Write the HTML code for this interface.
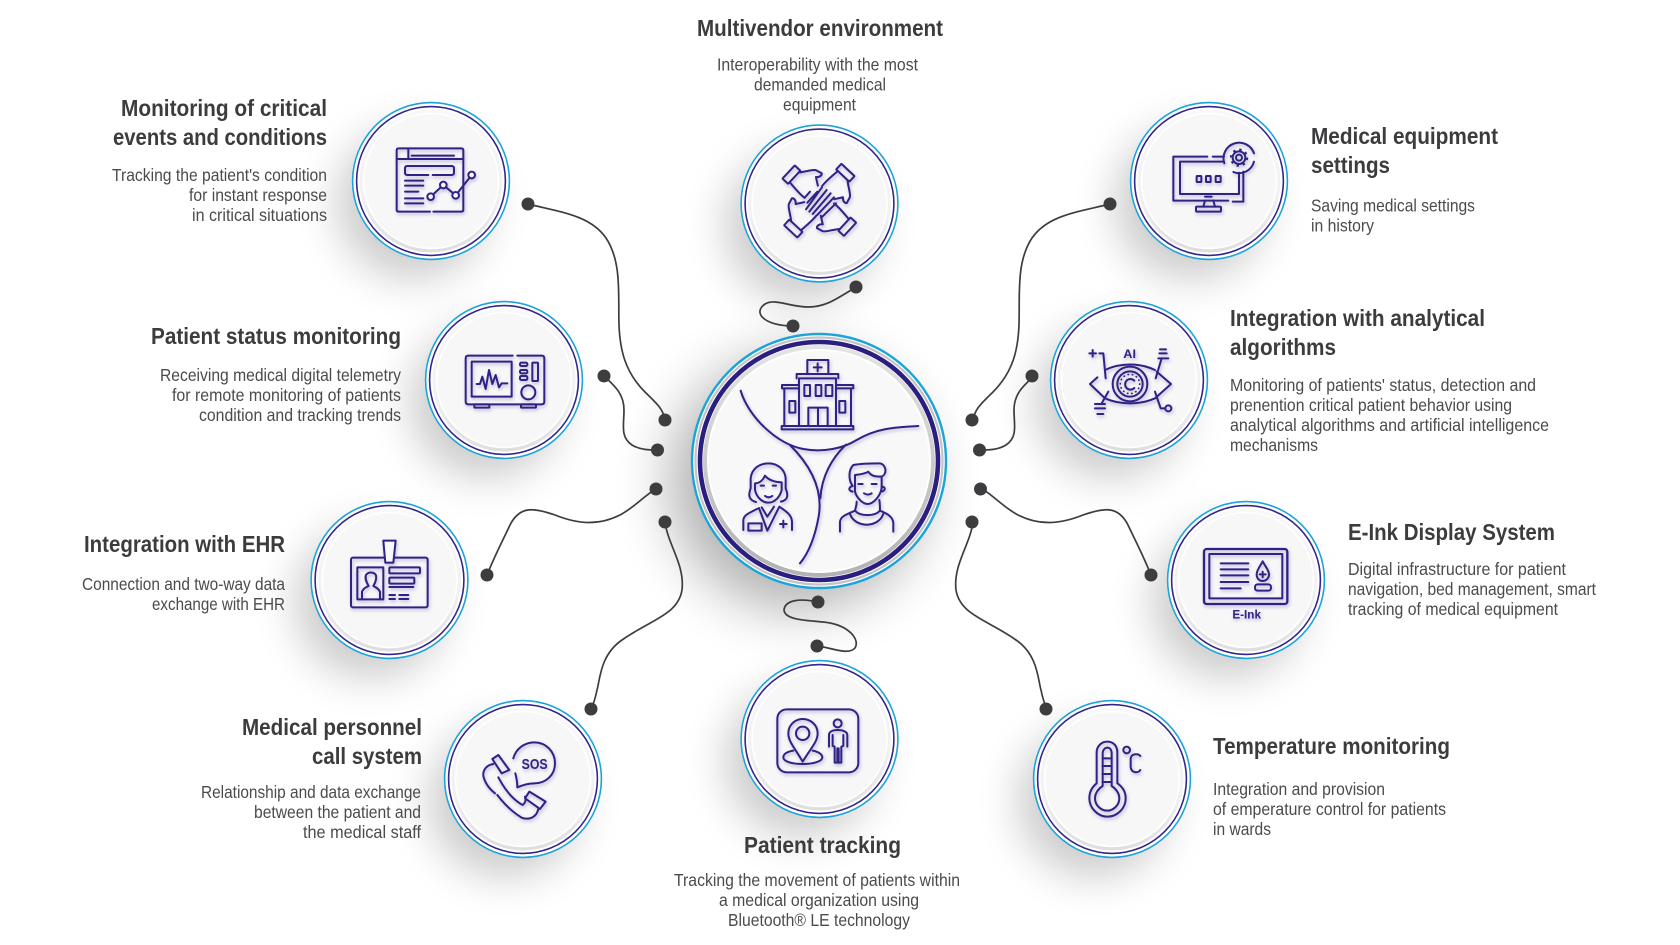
<!DOCTYPE html>
<html><head><meta charset="utf-8"><style>
html,body{margin:0;padding:0;background:#fff;width:1680px;height:945px;overflow:hidden}
svg{display:block}
.t{font:700 23px "Liberation Sans",sans-serif;fill:#3c3c3e}
.d{font:400 17.5px "Liberation Sans",sans-serif;fill:#4b4b4d}
.i{fill:none;stroke:#2e2484;stroke-width:6;stroke-linecap:round;stroke-linejoin:round}
.lt{fill:#2e2484;stroke:none;font-family:"Liberation Sans",sans-serif;font-weight:700}
.cn{fill:none;stroke:#3d3d40;stroke-width:1.7}
</style></head><body>
<svg xmlns="http://www.w3.org/2000/svg" width="1680" height="945" viewBox="0 0 1680 945">
<defs>
<filter id="b" x="-70%" y="-70%" width="240%" height="240%"><feGaussianBlur stdDeviation="21"/></filter>
<filter id="bc" x="-70%" y="-70%" width="240%" height="240%"><feGaussianBlur stdDeviation="28"/></filter>
<filter id="is" x="-15%" y="-15%" width="130%" height="130%"><feDropShadow dx="1" dy="2" stdDeviation="1.6" flood-color="#2e2484" flood-opacity=".28"/></filter>
<linearGradient id="g1" x1="0" y1="0" x2="0" y2="1"><stop offset="0" stop-color="#f8f8f9"/><stop offset=".6" stop-color="#f1f1f2"/><stop offset="1" stop-color="#dedede"/></linearGradient>
<linearGradient id="g2" x1="0" y1="0" x2="0" y2="1"><stop offset="0" stop-color="#e4e4e4"/><stop offset="1" stop-color="#b2b2b4"/></linearGradient>
<g id="c">
<circle r="79" fill="#fff"/>
<circle r="78.4" fill="none" stroke="#1ba4d8" stroke-width="1.6"/>
<circle r="74.4" fill="none" stroke="#33268a" stroke-width="1.6"/>
<circle r="71.5" fill="url(#g1)"/>
<circle r="67.5" fill="#f7f7f8" stroke="#fff" stroke-width="1.6"/>
</g>
<g id="hand">
<rect x="-126" y="-27" width="23" height="54" rx="2"/>
<path d="M-103 -20C-92 -30 -80 -55 -70 -60L-51 -65C-45 -60 -48 -50 -56 -45L-34 -30M-103 20C-85 22 -60 26 -38 24"/>
</g>
</defs>

<!-- shadows -->
<g fill="#000" opacity=".2" filter="url(#b)">
<circle cx="413" cy="203" r="76"/><circle cx="801" cy="226" r="76"/><circle cx="1191" cy="203" r="76"/>
<circle cx="486" cy="402" r="76"/><circle cx="1111" cy="402" r="76"/><circle cx="371" cy="602" r="76"/>
<circle cx="1228" cy="602" r="76"/><circle cx="505" cy="801" r="76"/><circle cx="801" cy="761" r="76"/><circle cx="1094" cy="801" r="76"/>
</g>
<circle cx="798" cy="482" r="128" fill="#000" opacity=".3" filter="url(#bc)"/>

<!-- connectors -->
<g class="cn">
<path d="M528 204C560 212 590 215 606 238C622 262 618 295 619 325C620 350 625 372 645 392C655 402 663 408 665 420"/>
<path d="M1110 204C1078 212 1048 215 1032 238C1016 262 1020 295 1019 325C1018 350 1013 372 993 392C983 402 975 408 973 420"/>
<path d="M604 376C612 384 624 392 624 410C624 425 620 437 632 445C640 450 650 450 657 450"/>
<path d="M1034 376C1026 384 1014 392 1014 410C1014 425 1018 437 1006 445C998 450 988 450 981 450"/>
<path d="M487 575C495 555 503 540 510 525C520 505 535 508 555 515C580 525 600 525 620 515C635 507 645 495 656 489"/>
<path d="M1151 575C1143 555 1135 540 1128 525C1118 505 1103 508 1083 515C1058 525 1038 525 1018 515C1003 507 993 495 982 489"/>
<path d="M665 522C668 545 685 565 682 590C678 615 650 620 622 640C600 655 600 680 597 690C595 700 593 705 591 709"/>
<path d="M973 522C970 545 953 565 956 590C960 615 988 620 1016 640C1038 655 1038 680 1041 690C1043 700 1045 705 1047 709"/>
<path d="M856 287C835 300 825 307 808 307C790 307 775 298 765 304C752 313 765 326 793 326"/>
<path d="M818 602C800 598 785 600 784 610C785 622 815 620 830 623C850 627 860 640 855 648C848 656 830 647 817 646"/>
</g>
<g fill="#3d3d40">
<circle cx="528" cy="204" r="6.5"/><circle cx="1110" cy="204" r="6.5"/><circle cx="604" cy="376" r="6.5"/><circle cx="1032" cy="376" r="6.5"/>
<circle cx="487" cy="575" r="6.5"/><circle cx="1151" cy="575" r="6.5"/><circle cx="591" cy="709" r="6.5"/><circle cx="1046" cy="709" r="6.5"/>
<circle cx="665" cy="420" r="6.5"/><circle cx="657.5" cy="450" r="6.5"/><circle cx="656" cy="489" r="6.5"/><circle cx="665" cy="522" r="6.5"/>
<circle cx="972" cy="420" r="6.5"/><circle cx="979.5" cy="450" r="6.5"/><circle cx="980.5" cy="489" r="6.5"/><circle cx="972" cy="522" r="6.5"/>
<circle cx="856" cy="287" r="6.5"/><circle cx="793" cy="326" r="6.5"/><circle cx="818" cy="602" r="6.5"/><circle cx="817" cy="646" r="6.5"/>
</g>

<!-- circles -->
<use href="#c" x="431" y="181"/><use href="#c" x="819.5" y="203.5"/><use href="#c" x="1209" y="181"/>
<use href="#c" x="504" y="380"/><use href="#c" x="1129" y="380"/><use href="#c" x="389.5" y="580"/>
<use href="#c" x="1246" y="580"/><use href="#c" x="523" y="779"/><use href="#c" x="819.5" y="739"/><use href="#c" x="1112" y="779"/>

<!-- centre -->
<circle cx="819" cy="461" r="128" fill="#fff"/>
<circle cx="819" cy="461" r="127" fill="none" stroke="#1ba4d8" stroke-width="2.4"/>
<circle cx="819" cy="461" r="123.5" fill="none" stroke="#c4c4c6" stroke-width="2.2"/>
<circle cx="819" cy="461" r="119" fill="none" stroke="#2a1f7e" stroke-width="4.6"/>
<circle cx="819" cy="461" r="116" fill="url(#g2)"/>
<circle cx="819" cy="461" r="111" fill="#f8f8f9" stroke="#fff" stroke-width="2"/>
<g filter="url(#is)"><g class="i" transform="translate(680,320) scale(.3333)">
<path d="M182 212C205 290 290 372 370 387C430 398 490 385 530 360C590 325 640 322 715 318"/>
<path d="M330 375C395 440 430 510 416 590C405 650 385 700 360 730"/>
<path d="M498 374C455 415 425 470 421 535"/>
<rect x="305" y="318" width="215" height="10"/>
<path d="M357 318V175H468V318M350 175V162H475V175M382 162V120H445V162M401 142H425M413 130V154"/>
<path d="M357 205H306V195H357M468 205H520V195H468M313 205V318M513 205V318"/>
<rect x="373" y="195" width="17" height="33"/><rect x="407" y="195" width="17" height="33"/><rect x="437" y="195" width="20" height="33"/>
<path d="M385 318V263H443V318M414 263V318"/>
<rect x="328" y="243" width="18" height="35"/><rect x="478" y="243" width="18" height="35"/>
<path d="M228 546C205 540 205 525 212 505V475C215 445 240 430 265 430C295 430 315 450 317 475V505C325 525 325 540 303 545"/>
<path d="M225 490C240 490 250 478 255 467C265 480 285 487 305 487M225 490V510C230 535 250 548 265 548C285 548 300 530 305 510V487"/>
<path d="M242 497H252M278 497H288M255 528C262 533 270 533 277 528"/>
<path d="M190 630V600C192 585 205 580 237 564L262 632L298 560C320 575 335 585 336 605V630M245 562L262 590L282 560"/>
<rect x="205" y="610" width="40" height="22"/><path d="M300 612H320M310 602V622"/>
<path d="M518 498C505 480 505 450 520 435C545 430 580 430 600 430C620 435 622 462 605 470V505"/>
<path d="M525 465C540 463 555 462 565 455C575 470 590 470 605 470M525 465V515C530 535 550 552 562 552C580 552 600 530 605 505M518 498C510 500 500 510 518 515M605 500C620 500 615 515 603 515"/>
<path d="M535 492H548M575 492H590M552 520C560 525 568 525 575 520"/>
<path d="M480 635V605C482 590 495 585 525 572C530 552 530 552 530 545M600 572C620 580 640 590 640 610V635M525 572C540 590 585 590 600 572C600 560 600 550 598 540M510 582C525 625 595 625 610 582"/>
</g></g>

<!-- icon 1 monitoring -->
<g filter="url(#is)"><g class="i" transform="translate(340,90) scale(.3333)">
<path d="M270 365H176Q170 365 170 359V181Q170 175 176 175H364Q370 175 370 181V359Q370 365 364 365H280"/>
<path d="M170 207H370M205 175V207M215 197H342"/>
<path d="M265 255H202Q195 255 195 248V235Q195 228 202 228H335Q342 228 342 235V248Q342 255 335 255H278"/>
<path d="M195 272H250M195 287H250M195 305H235M195 325H250M195 340H250"/>
<path d="M272 320L310 285L347 316L395 255"/>
<circle cx="272" cy="320" r="10" fill="#f7f7f8"/><circle cx="310" cy="285" r="10" fill="#f7f7f8"/><circle cx="347" cy="316" r="10" fill="#f7f7f8"/><circle cx="395" cy="255" r="10" fill="#f7f7f8"/>
</g></g>

<!-- icon 2 hands -->
<g filter="url(#is)"><g class="i" transform="translate(730,110) scale(.3333)">
<use href="#hand" transform="translate(268,272) rotate(43)"/>
<use href="#hand" transform="translate(268,272) rotate(133)"/>
<use href="#hand" transform="translate(268,272) rotate(223)"/>
<use href="#hand" transform="translate(268,272) rotate(313)"/>
<path d="M225 262L240 245M232 278L262 245M228 298L276 232M238 305L290 240M248 312L302 250M262 315L312 262M275 322L318 280"/>
</g></g>

<!-- icon 3 monitor -->
<g filter="url(#is)"><g class="i" transform="translate(1120,90) scale(.3333)">
<path d="M262 200H160V332H325M338 335H370V245M278 200H312M180 215H312M180 215V312H357V248"/>
<path d="M255 320H275M255 332L250 350M280 332L285 350"/>
<rect x="228" y="350" width="75" height="15" rx="3"/>
<rect x="230" y="258" width="14" height="18" rx="2"/><rect x="258" y="258" width="14" height="18" rx="2"/><rect x="287" y="258" width="15" height="18" rx="2"/>
<path d="M313 220A46 46 0 0 1 402 190M402 215A46 46 0 0 1 340 246"/>
<circle cx="357" cy="203" r="19"/><circle cx="357" cy="203" r="24" stroke-width="7" stroke-linecap="butt" stroke-dasharray="7 11.85"/><circle cx="357" cy="203" r="9"/>
</g></g>

<!-- icon 4 device -->
<g filter="url(#is)"><g class="i" transform="translate(420,290) scale(.3333)">
<path d="M278 197H145Q137 197 137 205V335Q137 343 145 343H365Q373 343 373 335V205Q373 197 365 197H292"/>
<path d="M155 320V215H275V320Z"/>
<path d="M170 282H180L187 260L197 297L207 240L217 282L227 255L237 292L245 280H262"/>
<rect x="300" y="218" width="22" height="10" rx="4"/><rect x="300" y="240" width="22" height="10" rx="4"/><rect x="300" y="258" width="22" height="12" rx="4"/>
<rect x="337" y="218" width="17" height="55" rx="2"/>
<circle cx="325" cy="307" r="21"/>
<rect x="163" y="343" width="45" height="10" rx="2"/><rect x="303" y="343" width="45" height="10" rx="2"/>
</g></g>

<!-- icon 5 eye -->
<g filter="url(#is)"><g class="i" transform="translate(1040,290) scale(.3333)">
<path d="M172 262L150 282L195 325C240 345 300 345 345 325L393 282L350 245M195 240C240 218 300 218 345 240"/>
<circle cx="270" cy="282" r="52"/><circle cx="270" cy="282" r="38"/>
<circle cx="270" cy="282" r="29" stroke-width="5" stroke-dasharray="1 12"/>
<path d="M283 272A16 16 0 1 0 283 294"/>
<path d="M148 190H168M158 180V200M178 190H190L197 265"/>
<path d="M360 178H378M358 190H380M355 205H385M365 205L347 265"/>
<path d="M205 305L185 340M165 342H195M165 355H195M172 372H190"/>
<path d="M345 305L362 355H375"/><circle cx="385" cy="355" r="9"/>
<text class="lt" x="269" y="204" text-anchor="middle" font-size="35" textLength="38" lengthAdjust="spacingAndGlyphs">AI</text>
</g></g>

<!-- icon 6 badge -->
<g filter="url(#is)"><g class="i" transform="translate(300,490) scale(.3333)">
<rect x="153" y="203" width="230" height="149" rx="6"/>
<path d="M250 152H287L280 218H256Z" fill="#f7f7f8"/>
<rect x="172" y="232" width="78" height="96"/>
<path d="M186 326V305C190 295 198 292 206 288C198 275 195 262 198 255C205 245 222 245 228 256C230 265 226 278 220 288C228 292 236 296 240 305V326"/>
<rect x="268" y="232" width="92" height="18" rx="3"/><rect x="268" y="263" width="75" height="18" rx="3"/>
<path d="M268 291H340M268 315H285M298 315H325M268 327H285M298 327H325"/>
</g></g>

<!-- icon 7 e-ink -->
<g filter="url(#is)"><g class="i" transform="translate(1160,490) scale(.3333)">
<rect x="132" y="177" width="250" height="165" rx="8" stroke-width="7"/>
<rect x="148" y="192" width="219" height="133" stroke-width="6"/>
<path d="M182 220H265M182 238H265M182 256H265M182 276H265M182 295H242"/>
<path d="M308 214C300 230 290 240 290 253C290 265 298 273 308 273C318 273 327 265 327 253C327 240 316 230 308 214Z"/>
<path d="M299 253H317M308 245V262"/>
<rect x="285" y="283" width="48" height="19" rx="8"/>
<text class="lt" x="217" y="385" font-size="37" textLength="86" lengthAdjust="spacingAndGlyphs">E-Ink</text>
</g></g>

<!-- icon 8 sos -->
<g filter="url(#is)"><g class="i" transform="translate(440,690) scale(.3333)">
<path d="M220 205C228 175 255 157 283 157C318 157 345 185 345 220C345 255 318 280 283 280C268 280 255 282 232 292C232 278 230 265 226 250"/>
<text class="lt" x="245" y="237" font-size="45" textLength="78" lengthAdjust="spacingAndGlyphs">SOS</text>
<path d="M175 195L157 207L185 250L208 240Z"/>
<path d="M160 222C140 225 128 240 130 258C135 280 150 298 165 310"/>
<path d="M172 315C195 345 220 368 245 383C270 392 290 380 295 357"/>
<path d="M175 262C195 300 220 330 248 345C255 340 260 328 255 320"/>
<path d="M268 305L255 325L300 357L317 335Z"/>
</g></g>

<!-- icon 9 tracking -->
<g filter="url(#is)"><g class="i" transform="translate(730,620) scale(.3333)">
<rect x="142" y="268" width="243" height="189" rx="28"/>
<path d="M218 425C195 385 175 365 175 340C175 315 195 297 218 297C242 297 263 315 263 340C263 365 242 385 218 425Z"/>
<circle cx="218" cy="340" r="20"/>
<path d="M190 392C170 395 160 403 160 412C160 424 185 432 218 432C250 432 277 424 277 412C277 403 265 395 248 392"/>
<circle cx="323" cy="310" r="12"/>
<path d="M297 380V345C297 335 308 330 323 330C338 330 352 335 352 345V380M308 345V378L314 380V428H322V385H326V428H334V380L340 378V345"/>
</g></g>

<!-- icon 10 thermo -->
<g filter="url(#is)"><g class="i" transform="translate(1030,690) scale(.3333)">
<path d="M200 280V187C200 168 215 155 232 155C250 155 262 168 262 187V280C280 292 287 308 287 325C287 355 262 380 232 380C205 380 178 355 178 325C178 308 185 292 200 280Z"/>
<path d="M218 288V190C218 180 225 173 232 173C240 173 245 180 245 190V288C258 296 268 310 268 325C268 345 250 362 232 362C212 362 195 345 195 325C195 310 205 296 218 288Z"/>
<path d="M218 205H245M218 228H245M218 252H245M218 276H245"/>
<circle cx="290" cy="180" r="10"/>
<path d="M331 198C325 190 305 190 302 205V232C305 250 325 250 331 240"/>
</g></g>

<!-- text -->
<g transform="translate(-1,-1)">
<text class="t" x="698" y="37" textLength="246" lengthAdjust="spacingAndGlyphs">Multivendor environment</text>
<text class="d" x="718" y="71.5" textLength="201" lengthAdjust="spacingAndGlyphs">Interoperability with the most</text>
<text class="d" x="755" y="91.5" textLength="132" lengthAdjust="spacingAndGlyphs">demanded medical</text>
<text class="d" x="784" y="111.5" textLength="73" lengthAdjust="spacingAndGlyphs">equipment</text>

<text class="t" x="1312" y="145" textLength="187" lengthAdjust="spacingAndGlyphs">Medical equipment</text>
<text class="t" x="1312" y="174" textLength="79" lengthAdjust="spacingAndGlyphs">settings</text>
<text class="d" x="1312" y="212.5" textLength="164" lengthAdjust="spacingAndGlyphs">Saving medical settings</text>
<text class="d" x="1312" y="232.5" textLength="63" lengthAdjust="spacingAndGlyphs">in history</text>

<text class="t" x="1231" y="327" textLength="255" lengthAdjust="spacingAndGlyphs">Integration with analytical</text>
<text class="t" x="1231" y="356" textLength="106" lengthAdjust="spacingAndGlyphs">algorithms</text>
<text class="d" x="1231" y="392" textLength="306" lengthAdjust="spacingAndGlyphs">Monitoring of patients' status, detection and</text>
<text class="d" x="1231" y="412" textLength="282" lengthAdjust="spacingAndGlyphs">prenention critical patient behavior using</text>
<text class="d" x="1231" y="432" textLength="319" lengthAdjust="spacingAndGlyphs">analytical algorithms and artificial intelligence</text>
<text class="d" x="1231" y="452" textLength="88" lengthAdjust="spacingAndGlyphs">mechanisms</text>

<text class="t" x="1349" y="541" textLength="207" lengthAdjust="spacingAndGlyphs">E-Ink Display System</text>
<text class="d" x="1349" y="576" textLength="218" lengthAdjust="spacingAndGlyphs">Digital infrastructure for patient</text>
<text class="d" x="1349" y="596" textLength="248" lengthAdjust="spacingAndGlyphs">navigation, bed management, smart</text>
<text class="d" x="1349" y="616" textLength="210" lengthAdjust="spacingAndGlyphs">tracking of medical equipment</text>

<text class="t" x="1214" y="755" textLength="237" lengthAdjust="spacingAndGlyphs">Temperature monitoring</text>
<text class="d" x="1214" y="796" textLength="172" lengthAdjust="spacingAndGlyphs">Integration and provision</text>
<text class="d" x="1214" y="816" textLength="233" lengthAdjust="spacingAndGlyphs">of emperature control for patients</text>
<text class="d" x="1214" y="836" textLength="58" lengthAdjust="spacingAndGlyphs">in wards</text>

<text class="t" x="745" y="854" textLength="157" lengthAdjust="spacingAndGlyphs">Patient tracking</text>
<text class="d" x="675" y="887" textLength="286" lengthAdjust="spacingAndGlyphs">Tracking the movement of patients within</text>
<text class="d" x="720" y="907" textLength="200" lengthAdjust="spacingAndGlyphs">a medical organization using</text>
<text class="d" x="729" y="927" textLength="182" lengthAdjust="spacingAndGlyphs">Bluetooth® LE technology</text>
</g>
<g transform="translate(0,-1)">
<text class="t" x="121" y="117" textLength="206" lengthAdjust="spacingAndGlyphs">Monitoring of critical</text>
<text class="t" x="113" y="146" textLength="214" lengthAdjust="spacingAndGlyphs">events and conditions</text>
<text class="d" x="112" y="182" textLength="215" lengthAdjust="spacingAndGlyphs">Tracking the patient's condition</text>
<text class="d" x="189" y="202" textLength="138" lengthAdjust="spacingAndGlyphs">for instant response</text>
<text class="d" x="192" y="222" textLength="135" lengthAdjust="spacingAndGlyphs">in critical situations</text>

<text class="t" x="151" y="345" textLength="250" lengthAdjust="spacingAndGlyphs">Patient status monitoring</text>
<text class="d" x="160" y="382" textLength="241" lengthAdjust="spacingAndGlyphs">Receiving medical digital telemetry</text>
<text class="d" x="172" y="402" textLength="229" lengthAdjust="spacingAndGlyphs">for remote monitoring of patients</text>
<text class="d" x="199" y="422" textLength="202" lengthAdjust="spacingAndGlyphs">condition and tracking trends</text>

<text class="t" x="84" y="553" textLength="201" lengthAdjust="spacingAndGlyphs">Integration with EHR</text>
<text class="d" x="82" y="591" textLength="203" lengthAdjust="spacingAndGlyphs">Connection and two-way data</text>
<text class="d" x="152" y="611" textLength="133" lengthAdjust="spacingAndGlyphs">exchange with EHR</text>

<text class="t" x="242" y="736" textLength="180" lengthAdjust="spacingAndGlyphs">Medical personnel</text>
<text class="t" x="312" y="765" textLength="110" lengthAdjust="spacingAndGlyphs">call system</text>
<text class="d" x="201" y="799" textLength="220" lengthAdjust="spacingAndGlyphs">Relationship and data exchange</text>
<text class="d" x="254" y="819" textLength="167" lengthAdjust="spacingAndGlyphs">between the patient and</text>
<text class="d" x="303" y="839" textLength="118" lengthAdjust="spacingAndGlyphs">the medical staff</text>
</g>
</svg>
</body></html>
